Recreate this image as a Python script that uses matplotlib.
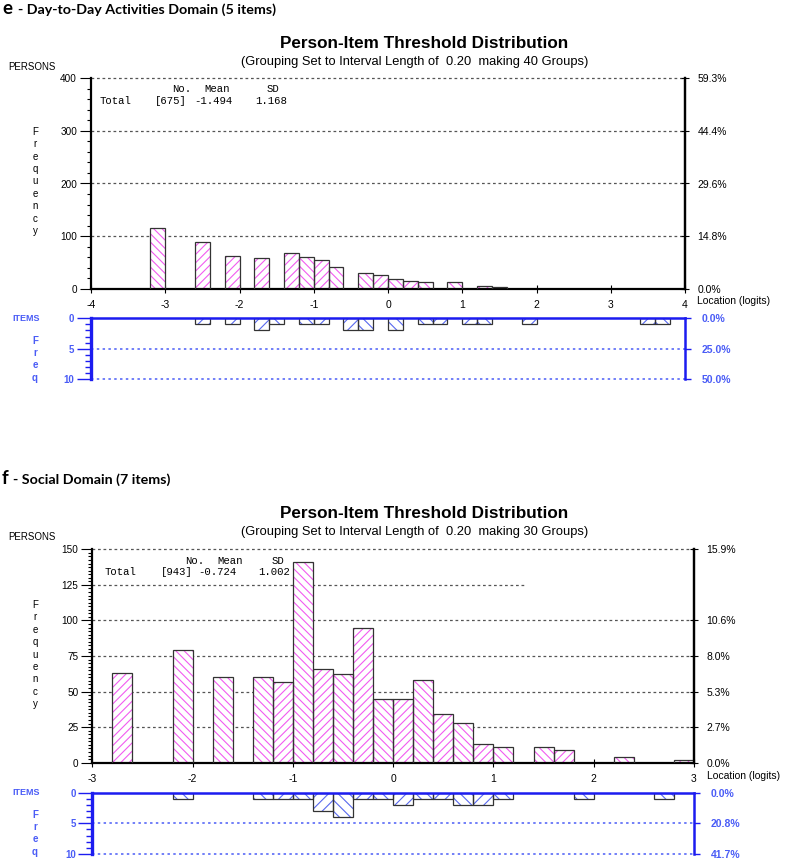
import matplotlib
matplotlib.use('Agg')
import matplotlib.pyplot as plt
import numpy as np

plt.rcParams['font.family'] = ['Liberation Sans', 'DejaVu Sans']
plt.rcParams['hatch.linewidth'] = 0.8

W, H = 787, 859

# panel e - Day-to-Day Activities (bin left edges, width 0.2)
e_person_left = [-3.2, -2.6, -2.2, -1.8, -1.4, -1.2, -1.0, -0.8, -0.4, -0.2, 0.0, 0.2, 0.4, 0.8, 1.2, 1.4]
e_person_freq = [116, 89, 63, 58, 67, 61, 54, 42, 30, 26, 18, 15, 13, 13, 6, 4]
e_item_left = [-2.6, -2.2, -1.8, -1.6, -1.2, -1.0, -0.6, -0.4, 0.0, 0.4, 0.6, 1.0, 1.2, 1.8, 3.4, 3.6]
e_item_freq = [1, 1, 2, 1, 1, 1, 2, 2, 2, 1, 1, 1, 1, 1, 1, 1]
e_stats = ["[675]", "-1.494", "1.168"]

# panel f - Social
f_person_left = [-2.8, -2.2, -1.8, -1.4, -1.2, -1.0, -0.8, -0.6, -0.4, -0.2, 0.0, 0.2,
                 0.4, 0.6, 0.8, 1.0, 1.4, 1.6, 2.2, 2.8]
f_person_freq = [63, 79, 60, 60, 57, 141, 66, 62, 95, 45, 45, 58, 34, 28, 13, 11, 11, 9, 4, 2]
f_item_left = [-2.2, -1.4, -1.2, -1.0, -0.8, -0.6, -0.4, -0.2, 0.0, 0.2, 0.4, 0.6, 0.8, 1.0, 1.8, 2.6]
f_item_freq = [1, 1, 1, 1, 3, 4, 1, 1, 2, 1, 1, 2, 2, 1, 1, 1]
f_stats = ["[943]", "-0.724", "1.002"]

PINK = '#f25cf0'
HATCH_BLUE = '#5868ee'
AXIS_BLUE = '#1c1cf0'
LABEL_BLUE = '#4a5cf6'
EDGE = '#333333'
GRID = '#555555'
BIN = 0.2


def rect(l, t, r, b):
    return [l / W, 1 - b / H, (r - l) / W, (b - t) / H]


def ftext(x, y, s, **kw):
    fig.text(x / W, 1 - y / H, s, **kw)


def hatched_bars(ax, lefts, freqs, xmin, colour, dense):
    bars = ax.bar(lefts, freqs, width=BIN, align='edge', color='white',
                  edgecolor=colour, linewidth=0, zorder=2)
    for b, left in zip(bars, lefts):
        k = int(round((left - xmin) / BIN))
        b.set_hatch('/' * dense if k % 2 else '\\' * dense)
    ax.bar(lefts, freqs, width=BIN, align='edge', fill=False,
           edgecolor=EDGE, linewidth=0.9, zorder=3)


def persons_panel(box, lefts, freqs, xmin, xmax, ymax, ystep, yminor, right_ticks, short_grid):
    total = sum(freqs)
    ax = fig.add_axes(rect(*box))
    ax.set_xlim(xmin, xmax)
    ax.set_ylim(0, ymax)
    ax.set_facecolor('none')
    hatched_bars(ax, lefts, freqs, xmin, PINK, 4)
    yt = np.arange(0, ymax + 0.01, ystep)
    for v in yt[1:]:
        ax.axhline(v, xmax=short_grid.get(v, 1.0), color=GRID, lw=0.9,
                   ls=(0, (2.2, 2.2)), zorder=1, clip_on=False)
    ax.spines['top'].set_visible(False)
    for s in ['left', 'bottom', 'right']:
        ax.spines[s].set_linewidth(1.6)
        ax.spines[s].set_color('black')
    ax.set_yticks(yt)
    ax.set_yticklabels([f"{v:g}" for v in yt], fontsize=7.2)
    ax.set_yticks(np.arange(0, ymax + 0.01, yminor), minor=True)
    ax.tick_params(axis='y', which='major', length=8, width=0.8, pad=2)
    ax.tick_params(axis='y', which='minor', length=3, width=0.8)
    ax.set_xticks(np.arange(xmin, xmax + 1))
    ax.set_xticklabels([f"{v:d}" for v in range(xmin, xmax + 1)], fontsize=7.5)
    ax.tick_params(axis='x', direction='inout', length=6, width=0.8, pad=5)
    axr = ax.twinx()
    axr.set_ylim(0, ymax)
    for s in ['left', 'top', 'bottom']:
        axr.spines[s].set_visible(False)
    axr.spines['right'].set_linewidth(1.6)
    axr.set_yticks(right_ticks)
    axr.set_yticklabels([f"{100 * v / total:.1f}%" for v in right_ticks], fontsize=7.5)
    axr.tick_params(axis='y', direction='inout', length=6, width=0.8, pad=6)
    return ax


def items_panel(box, lefts, freqs, xmin, xmax, n_thr):
    ax = fig.add_axes(rect(*box))
    ax.set_xlim(xmin, xmax)
    ax.set_ylim(10, 0)
    ax.set_facecolor('none')
    hatched_bars(ax, lefts, freqs, xmin, HATCH_BLUE, 3)
    for v in [5, 10]:
        ax.axhline(v, color=LABEL_BLUE, lw=1.1, ls=(0, (1.6, 2.2)), zorder=1, clip_on=False)
    ax.spines['bottom'].set_visible(False)
    ax.spines['top'].set_linewidth(1.8)
    ax.spines['left'].set_linewidth(2.4)
    ax.spines['right'].set_linewidth(1.8)
    for s in ['top', 'left', 'right']:
        ax.spines[s].set_color(AXIS_BLUE)
        ax.spines[s].set_zorder(4)
    ax.set_xticks([])
    ax.set_yticks([0, 5, 10])
    ax.set_yticklabels(['0', '5', '10'], fontsize=7, color=LABEL_BLUE, fontweight='bold')
    ax.set_yticks(np.arange(0, 11, 1), minor=True)
    ax.tick_params(axis='y', which='major', length=10, width=1.0, color=AXIS_BLUE, pad=2)
    ax.tick_params(axis='y', which='minor', length=4, width=1.0, color=AXIS_BLUE)
    axr = ax.twinx()
    axr.set_ylim(10, 0)
    for s in ['left', 'top', 'bottom', 'right']:
        axr.spines[s].set_visible(False)
    axr.set_yticks([0, 5, 10])
    axr.set_yticklabels([f"{100 * v / n_thr:.1f}%" for v in [0, 5, 10]], fontsize=7.5,
                        color=LABEL_BLUE, fontweight='bold')
    axr.tick_params(axis='y', length=4, width=1.0, color=AXIS_BLUE, pad=8)
    return ax


def panel_text(letter, heading, y0, n_groups, stats, rest_x, stat_x, stat_y, loc_x, loc_y,
               freq_y, items_y, items_freq_y):
    ftext(2, y0, letter, fontsize=13.5, fontweight='bold', family='Lato', va='center')
    ftext(rest_x, y0 + 1, heading, fontsize=10.3, fontweight='bold', family='Lato', va='center')
    ftext(424, y0 + 34, "Person-Item Threshold Distribution", fontsize=12.3,
          fontweight='bold', ha='center', va='center')
    ftext(415, y0 + 53, f"(Grouping Set to Interval Length of  0.20  making {n_groups} Groups)",
          fontsize=9.3, ha='center', va='center')
    ftext(8, y0 + 58, "PERSONS", fontsize=7, va='center')
    for i, ch in enumerate("Frequency"):
        ftext(35, freq_y + i * 12.4, ch, fontsize=7, ha='center', va='center')
    ftext(12, items_y, "ITEMS", fontsize=6.5, color=LABEL_BLUE, fontweight='bold', va='center')
    for i, ch in enumerate("Freq"):
        ftext(35, items_freq_y + i * 12.2, ch, fontsize=7, color=LABEL_BLUE,
              fontweight='bold', ha='center', va='center')
    mono = dict(fontsize=7.7, family='Liberation Mono', va='center')
    for s, x in zip(["No.", "Mean", "SD"], stat_x[0]):
        ftext(x, stat_y, s, **mono)
    for s, x in zip(["Total"] + stats, stat_x[1]):
        ftext(x, stat_y + 11.5, s, **mono)
    ftext(loc_x, loc_y, "Location (logits)", fontsize=7.5, va='center')


fig = plt.figure(figsize=(W / 100, H / 100), dpi=100)

persons_panel((91, 78.3, 685, 288.7), e_person_left, e_person_freq, -4, 4, 400, 100, 20,
              [0, 100, 200, 300, 400], {})
items_panel((91, 318.3, 685, 379.3), e_item_left, e_item_freq, -4, 4, 20)
panel_text("e", "- Day-to-Day Activities Domain (5 items)", 9, 40, e_stats, 18,
           [[172, 204, 267], [100, 155, 194, 255]], 89, 697, 301.5, 131.7, 318.3, 341)

persons_panel((92.3, 549.3, 694, 762.7), f_person_left, f_person_freq, -3, 3, 150, 25, 2.5,
              [0, 25, 50, 75, 100, 150], {125: 0.72})
items_panel((92.3, 792.7, 694, 854), f_item_left, f_item_freq, -3, 3, 24)
panel_text("f", "- Social Domain (7 items)", 479, 30, f_stats, 13,
           [[185, 217, 272], [105, 161, 198, 258]], 560.5, 707, 775.7, 605, 792.7, 815)

fig.savefig('out.png', dpi=100)
